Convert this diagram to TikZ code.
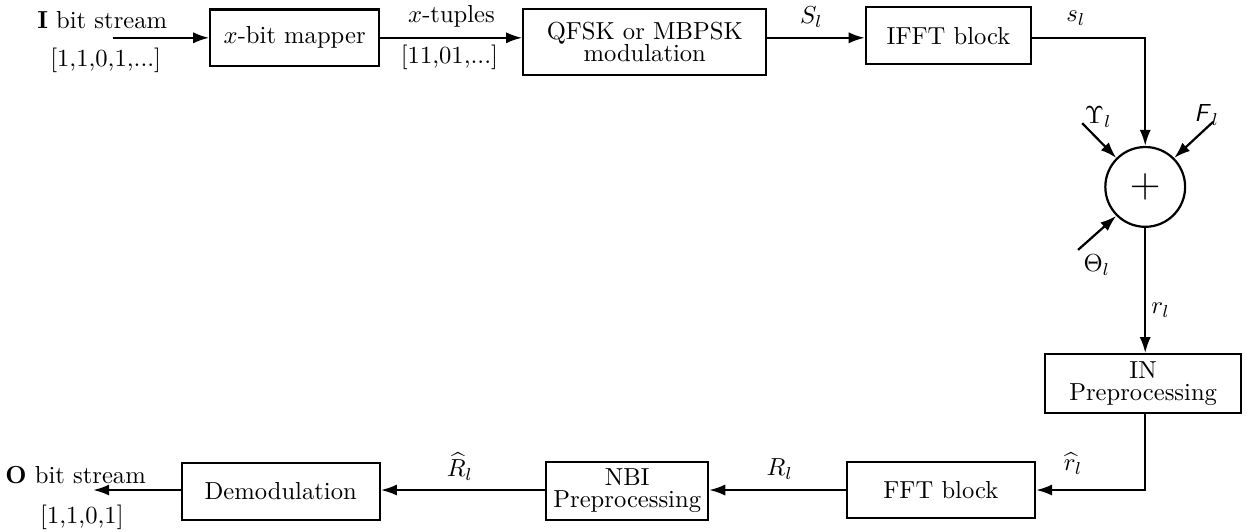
\documentclass[tikz,border=0pt]{standalone}
\usepackage{amsmath}
\usepackage{tikz}
\usetikzlibrary{shapes,arrows,arrows.meta,positioning,calc}
\tikzset{
    blk/.style={draw, line width=0.9pt, inner sep=1pt, align=center, font=\normalsize},
    sumnode/.style={draw, line width=0.9pt, circle, minimum size=1.14cm, inner sep=0pt},
    sig/.style={line width=0.9pt, -{Latex[length=2.3mm,width=1.6mm]}},
    lbl/.style={font=\normalsize},
}

\begin{document}
\begin{tikzpicture}[scale=1]
    \useasboundingbox (0,0) rectangle (17.814,-7.586);

    % Transmitter
    \node[lbl] (inlbl) at (1.46,-0.29) {$\mathbf{I}$ bit stream};
    \node[lbl] (inbits) at (1.51,-0.86) {[1,1,0,1,...]};
    \coordinate (src) at (1.61,-0.54);
    \node[blk, minimum width=2.41cm, minimum height=0.81cm] (map) at (4.21,-0.54) {$x$-bit mapper};
    \node[blk, minimum width=3.47cm, minimum height=0.94cm] (qfsk) at (9.21,-0.60) {QFSK or MBPSK\\[-3pt]modulation};
    \node[blk, minimum width=2.36cm, minimum height=0.81cm] (ifft) at (13.55,-0.51) {IFFT block};

    \draw[sig] (src) -- (map);
    \draw[sig] (map) -- (qfsk.west |- map);
    \draw[sig] (qfsk.east |- map) -- (ifft.west |- map);
    \node[lbl] (tuplbl) at (6.45,-0.24) {$x$-tuples};
    \node[lbl] (tupbits) at (6.42,-0.82) {[11,01,...]};
    \node[lbl] (Slbl) at (11.59,-0.24) {$S_l$};

    % Channel
    \node[sumnode] (sum) at (16.36,-2.67) {\LARGE$+$};
    \draw[sig] (ifft.east |- map) -| (sum);
    \node[lbl] (slbl) at (15.37,-0.26) {$s_l$};

    \coordinate (ups) at (15.46,-1.76);
    \coordinate (fad) at (17.33,-1.74);
    \coordinate (tht) at (15.40,-3.57);
    \node[lbl] (upslbl) at (15.69,-1.67) {$\Upsilon_l$};
    \node[lbl] (fadlbl) at (17.24,-1.64) {$\textsf{\slshape F}_{\,l}$};
    \node[lbl] (thtlbl) at (15.67,-3.79) {$\Theta_l$};
    \draw[sig] (ups) -- (sum.135);
    \draw[sig] (fad) -- (sum.45);
    \draw[sig] (tht) -- (sum.225);

    % Receiver
    \node[blk, minimum width=2.80cm, minimum height=0.84cm] (inpre) at (16.33,-5.48) {IN\\[-3pt]Preprocessing};
    \draw[sig] (sum) -- (sum |- inpre.north);
    \node[lbl] (rlbl) at (16.58,-4.43) {$r_l$};

    \node[blk, minimum width=2.69cm, minimum height=0.80cm] (fft) at (13.44,-7.00) {FFT block};
    \draw[sig] (inpre.south -| sum) |- (fft);
    \node[lbl] (rhatlbl) at (15.33,-6.62) {$\widehat{r}_l$};

    \node[blk, minimum width=2.31cm, minimum height=0.83cm] (nbi) at (8.96,-7.01) {NBI\\[-3pt]Preprocessing};
    \draw[sig] (fft) -- (nbi.east |- fft);
    \node[lbl] (Rlbl) at (11.14,-6.70) {$R_l$};

    \node[blk, minimum width=2.83cm, minimum height=0.81cm] (demod) at (4.01,-7.02) {Demodulation};
    \draw[sig] (nbi.west |- fft) -- (demod.east |- fft);
    \node[lbl] (Rhatlbl) at (6.57,-6.66) {$\widehat{R}_l$};

    \coordinate (sink) at (1.33,-7.00);
    \draw[sig] (demod.west |- fft) -- (sink);
    \node[lbl] (outlbl) at (1.08,-6.79) {$\mathbf{O}$ bit stream};
    \node[lbl] (outbits) at (1.17,-7.39) {[1,1,0,1]};
\end{tikzpicture}
\end{document}
